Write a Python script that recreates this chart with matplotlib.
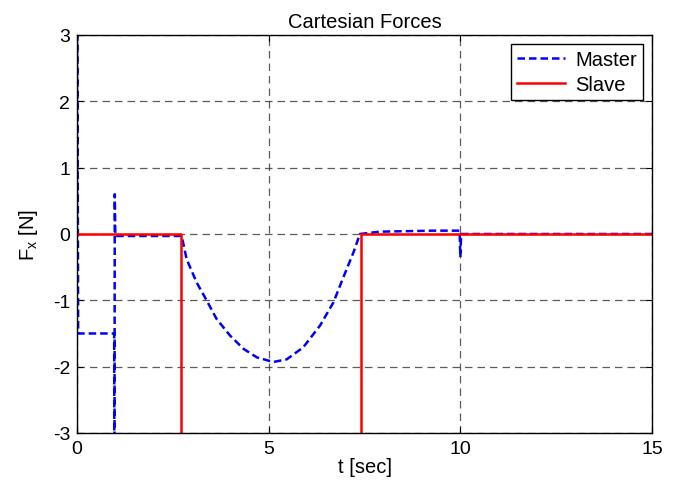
import matplotlib
matplotlib.use("Agg")
import matplotlib.pyplot as plt
import numpy as np

plt.rcParams['font.family'] = ['Liberation Sans', 'DejaVu Sans']
plt.rcParams['axes.unicode_minus'] = False

# Master (dashed blue)
master_t = [0.0, 0.0, 0.03, 0.97, 0.975, 0.985, 1.0, 2.70,
            2.73, 2.86, 3.12, 3.38, 3.64, 3.99, 4.34, 4.69, 5.12, 5.47,
            5.90, 6.34, 6.69, 6.95, 7.21, 7.38, 7.9, 9.3, 9.98, 10.0, 10.02, 15.0]
master_f = [0.0, 5.0, -1.5, -1.5, -5.0, 0.6, -0.03, -0.03,
            -0.03, -0.38, -0.73, -1.0, -1.28, -1.53, -1.73, -1.86, -1.93, -1.89,
            -1.71, -1.38, -1.03, -0.65, -0.28, 0.0, 0.035, 0.05, 0.05, -0.35, 0.0, 0.0]

# Slave (solid red)
slave_t = [0.0, 2.70, 2.70, 7.40, 7.40, 15.0]
slave_f = [0.0, 0.0, -10.0, -10.0, 0.0, 0.0]

xticks = [0, 5, 10, 15]
yticks = [-3, -2, -1, 0, 1, 2, 3]

fig = plt.figure(figsize=(6.9, 4.85), dpi=100)
ax = fig.add_axes([0.1116, 0.1052, 0.8334, 0.8206])

ax.plot(master_t, master_f, color='#0000ff', linestyle=(0, (3, 1.6)), linewidth=1.8, label='Master')
ax.plot(slave_t, slave_f, color='#ff0000', linestyle='-', linewidth=1.8, label='Slave')

ax.set_xlim(0, 15)
ax.set_ylim(-3, 3)
ax.set_xticks(xticks)
ax.set_yticks(yticks)
ax.tick_params(direction='in', top=True, right=True, labelsize=14, length=4, pad=5)
ax.grid(True, color='#333333', linestyle=(0, (6, 4)), linewidth=0.9, alpha=0.8)
for s in ax.spines.values():
    s.set_linewidth(1.0)

ax.set_title('Cartesian Forces', fontsize=14.5, pad=6)
ax.set_xlabel('t [sec]', fontsize=14.5, labelpad=0)
ax.set_ylabel(r'F$_\mathregular{x}$ [N]', fontsize=14.5, labelpad=9)

leg = ax.legend(loc='upper right', fontsize=14.5, frameon=True, fancybox=False,
                edgecolor='black', framealpha=1, handlelength=2.4,
                borderpad=0.3, labelspacing=0.3, handletextpad=0.5,
                borderaxespad=0.45)
leg.get_frame().set_linewidth(1.0)

fig.savefig('out.png', dpi=100)
